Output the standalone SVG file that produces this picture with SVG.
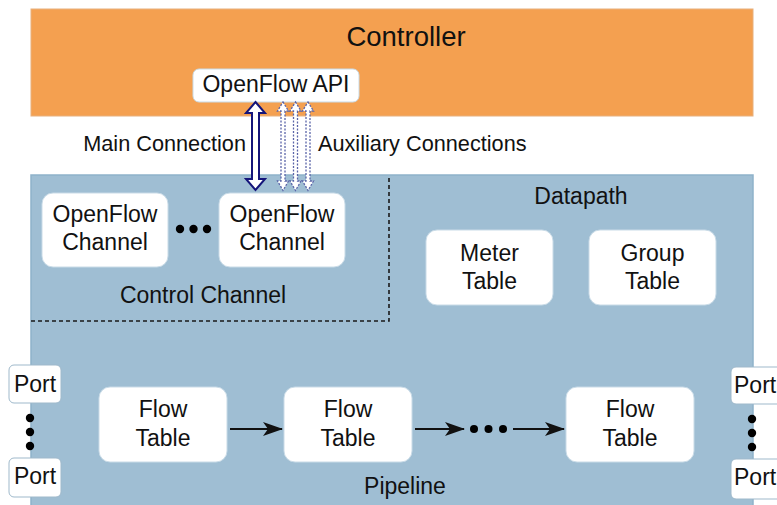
<svg xmlns="http://www.w3.org/2000/svg" width="777" height="505" viewBox="0 0 777 505">
  <defs>
    <style>
      text { font-family: "Liberation Sans", Arial, sans-serif; fill: #111; text-anchor: middle; }
      .lbl { font-size: 23px; }
      .conn { font-size: 21.7px; }
      .box { fill: #ffffff; stroke: #c9dbe7; stroke-width: 1; }
      .port { fill: #ffffff; stroke: #9fb9cb; stroke-width: 1; }
      .dash { stroke: #1a1a1a; stroke-width: 1.6; stroke-dasharray: 4 3; fill: none; }
      .flow { stroke: #111; stroke-width: 2; fill: none; marker-end: url(#head); }
      .main { fill: #ffffff; stroke: #14147a; stroke-width: 2; stroke-linejoin: miter; }
      .aux { fill: #ffffff; stroke: #5a64a8; stroke-width: 1.3; stroke-dasharray: 2 1.5; }
    </style>
    <marker id="head" viewBox="0 0 20 14" refX="19" refY="7" markerWidth="20" markerHeight="14" markerUnits="userSpaceOnUse" orient="auto">
      <path d="M0,0 L20,7 L0,14 L5,7 Z" fill="#111"/>
    </marker>
  </defs>

  <rect width="777" height="505" fill="#ffffff"/>

  <!-- controller -->
  <g id="controller">
    <rect x="31" y="9" width="722" height="107" fill="#F4A050" stroke="#e8b07c" stroke-width="1"/>
    <text x="406" y="46" style="font-size:27.5px">Controller</text>
  </g>

  <g id="openflow-api">
    <rect x="193" y="69" width="166" height="33" rx="6" class="box"/>
    <text x="276" y="92" class="lbl">OpenFlow API</text>
  </g>

  <!-- switch / datapath -->
  <g id="datapath">
    <rect x="31" y="175" width="722" height="345" fill="#9FBED3" stroke="#8fb2ca" stroke-width="1.5"/>
    <text x="581" y="204" class="lbl">Datapath</text>
  </g>

  <g id="control-channel">
    <path d="M31,321 H389 V177" class="dash"/>
    <text x="203" y="303" class="lbl">Control Channel</text>
  </g>

  <g id="channel-1">
    <rect x="42" y="193" width="126" height="74" rx="11" class="box"/>
    <text x="105" y="222" class="lbl">OpenFlow</text>
    <text x="105" y="250" class="lbl">Channel</text>
  </g>

  <g id="channel-dots" fill="#000">
    <circle cx="180" cy="229" r="4.2"/>
    <circle cx="193.5" cy="229" r="4.2"/>
    <circle cx="207" cy="229" r="4.2"/>
  </g>

  <g id="channel-2">
    <rect x="219" y="193" width="126" height="74" rx="11" class="box"/>
    <text x="282" y="222" class="lbl">OpenFlow</text>
    <text x="282" y="250" class="lbl">Channel</text>
  </g>

  <g id="meter-table">
    <rect x="426" y="230" width="127" height="75" rx="11" class="box"/>
    <text x="489.5" y="261" class="lbl">Meter</text>
    <text x="489.5" y="289" class="lbl">Table</text>
  </g>

  <g id="group-table">
    <rect x="589" y="230" width="127" height="75" rx="11" class="box"/>
    <text x="652.5" y="261" class="lbl">Group</text>
    <text x="652.5" y="289" class="lbl">Table</text>
  </g>

  <g id="flow-table-1">
    <rect x="99" y="387" width="128" height="75" rx="11" class="box"/>
    <text x="163" y="417" class="lbl">Flow</text>
    <text x="163" y="446" class="lbl">Table</text>
  </g>

  <g id="flow-table-2">
    <rect x="284" y="387" width="128" height="75" rx="11" class="box"/>
    <text x="348" y="417" class="lbl">Flow</text>
    <text x="348" y="446" class="lbl">Table</text>
  </g>

  <g id="flow-table-n">
    <rect x="566" y="387" width="128" height="75" rx="11" class="box"/>
    <text x="630" y="417" class="lbl">Flow</text>
    <text x="630" y="446" class="lbl">Table</text>
  </g>

  <g id="pipeline-label">
    <text x="405" y="494" class="lbl">Pipeline</text>
  </g>

  <!-- ports -->
  <g id="port-in-1">
    <rect x="9" y="365" width="52" height="38" rx="5" class="port"/>
    <text x="35" y="392" class="lbl">Port</text>
  </g>
  <g id="port-in-2">
    <rect x="9" y="458" width="52" height="39" rx="5" class="port"/>
    <text x="35" y="484" class="lbl">Port</text>
  </g>
  <g id="port-out-1">
    <rect x="731" y="367" width="60" height="37" rx="5" class="port"/>
    <text x="756" y="393" class="lbl" style="text-anchor:start" dx="-22">Port</text>
  </g>
  <g id="port-out-2">
    <rect x="731" y="459" width="60" height="40" rx="5" class="port"/>
    <text x="756" y="485" class="lbl" style="text-anchor:start" dx="-22">Port</text>
  </g>

  <g id="port-dots" fill="#000">
    <circle cx="30" cy="418" r="4.2"/>
    <circle cx="30" cy="432" r="4.2"/>
    <circle cx="30" cy="446" r="4.2"/>
    <circle cx="752" cy="419" r="4.2"/>
    <circle cx="752" cy="433" r="4.2"/>
    <circle cx="752" cy="447" r="4.2"/>
  </g>

  <!-- connectors -->
  <g id="connectors">
    <!-- main connection: double-headed hollow arrow -->
    <path class="main" d="M255.5,102 L265,113 L259,113 L259,179 L265,179 L255.5,190 L246,179 L252,179 L252,113 L246,113 Z"/>
    <!-- auxiliary connections -->
    <path class="aux" d="M283,102 L288.5,111 L285,111 L285,181 L288.5,181 L283,190.5 L277.5,181 L281,181 L281,111 L277.5,111 Z"/>
    <path class="aux" d="M295.5,102 L301,111 L297.5,111 L297.5,181 L301,181 L295.5,190.5 L290,181 L293.5,181 L293.5,111 L290,111 Z"/>
    <path class="aux" d="M308,102 L313.5,111 L310,111 L310,181 L313.5,181 L308,190.5 L302.5,181 L306,181 L306,111 L302.5,111 Z"/>

    <!-- pipeline flow -->
    <line x1="230" y1="429" x2="282" y2="429" class="flow"/>
    <line x1="415" y1="429" x2="464" y2="429" class="flow"/>
    <line x1="513" y1="429" x2="564" y2="429" class="flow"/>
    <g fill="#000">
      <circle cx="474" cy="429" r="4"/>
      <circle cx="488.5" cy="429" r="4"/>
      <circle cx="503" cy="429" r="4"/>
    </g>
  </g>

  <g id="connection-labels">
    <text x="246" y="151" class="conn" style="text-anchor:end">Main Connection</text>
    <text x="318" y="151" class="conn" style="text-anchor:start">Auxiliary Connections</text>
  </g>
</svg>
